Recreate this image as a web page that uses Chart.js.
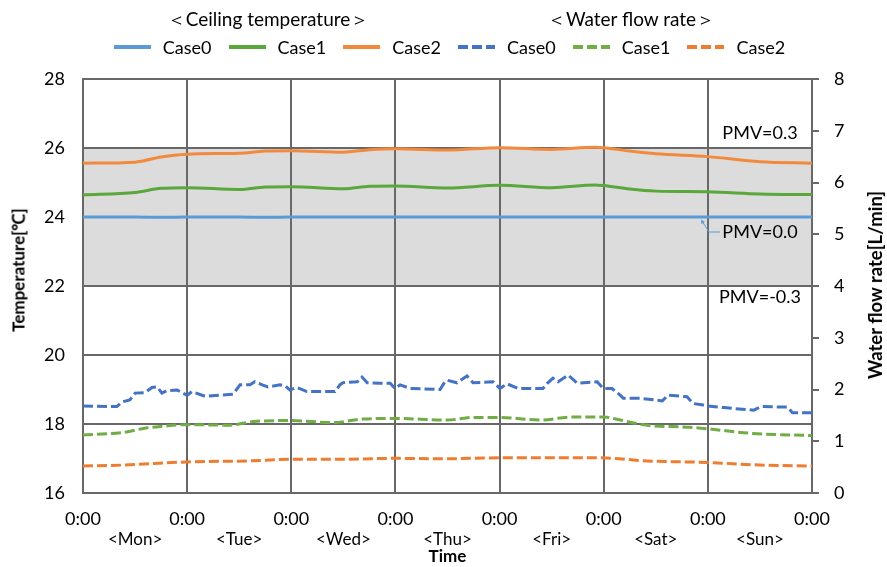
<!DOCTYPE html>
<html>
<head>
<meta charset="utf-8">
<script src="https://cdn.jsdelivr.net/npm/chart.js@4.4.1/dist/chart.umd.min.js"></script>
<style>
  html, body { margin: 0; background: #fff; }
  #wrap { position: relative; width: 887px; height: 567px; font-family: Lato, sans-serif; color: #000; }
  #chart { position: absolute; left: 0; top: 0; }
  .group { position: absolute; top: 20px; font-size: 19px; white-space: nowrap; transform: translate(-50%, -50%); }
  #legend { position: absolute; left: 6px; width: 887px; top: 47px; transform: translateY(-50%);
            display: flex; justify-content: center; align-items: center; font-size: 18px; }
  #legend .item { display: flex; align-items: center; margin-right: 17px; }
  #legend .item:last-child { margin-right: 0; }
  #legend svg { margin-right: 12px; }
  .axis-title { position: absolute; font-weight: bold; font-size: 17px; white-space: nowrap;
                transform: translate(-50%, -50%) rotate(-90deg); }
</style>
</head>
<body>
<div id="wrap">
  <canvas id="chart" width="887" height="567"></canvas>
  <div class="group" id="g0" style="left:268px"></div>
  <div class="group" id="g1" style="left:631px"></div>
  <div id="legend"></div>
  <div class="axis-title" style="left:18px; top:270px">Temperature[℃]</div>
  <div class="axis-title" style="left:875px; top:285px; font-size:18.5px">Water flow rate[L/min]</div>
</div>
<script>
// labels
const groupTitles = ['＜Ceiling temperature＞', '＜Water flow rate＞'];
const caseNames = ['Case0', 'Case1', 'Case2'];
const dayNames = ['<Mon>', '<Tue>', '<Wed>', '<Thu>', '<Fri>', '<Sat>', '<Sun>'];
const timeTicks = ['0:00', '0:00', '0:00', '0:00', '0:00', '0:00', '0:00', '0:00'];
const dayCenters = [12, 36, 60, 84, 108, 132, 156];

// ceiling temperature [°C], hours from Mon 0:00
const tempHours = [0, 12, 18, 24, 36, 42, 48, 60, 66, 72, 84, 96, 108, 118, 120, 126, 132, 144, 156, 168];
const tempCase0 = [24.0, 24.0, 23.99, 24.0, 24.0, 23.99, 24.0, 24.0, 24.0, 24.0, 24.0, 24.0, 24.0, 24.0, 24.0, 24.0, 24.0, 24.0, 24.0, 24.0];
const tempCase1 = [24.64, 24.71, 24.83, 24.85, 24.80, 24.87, 24.88, 24.82, 24.89, 24.90, 24.84, 24.92, 24.85, 24.93, 24.91, 24.81, 24.75, 24.73, 24.67, 24.65];
const tempCase2 = [25.56, 25.59, 25.74, 25.82, 25.85, 25.91, 25.92, 25.88, 25.95, 25.98, 25.94, 26.01, 25.96, 26.02, 26.01, 25.91, 25.83, 25.75, 25.60, 25.56];

// water flow rate [L/min]
const flow0Hours = [0, 7.8, 9, 10.8, 12, 14.3, 15.9, 17.1, 18.2, 19.4, 21.7, 23, 24, 25.1, 28.1, 34.6, 36.2, 38.5, 39.6, 41.3,
  42.6, 45.4, 46.6, 47.7, 49.3, 51.6, 58.1, 59.2, 59.9, 63.2, 64.3, 65.5, 68.5, 70.8, 71.9, 73.1, 75.4, 82.3, 83.4, 83.9,
  86.2, 88.5, 89.9, 94.5, 96.1, 97.7, 100.3, 106, 107, 108.3, 109.5, 111.8, 113.9, 118.5, 119.9, 121.9, 123.8, 124.5, 128.4, 133.5,
  134.8, 139.2, 140.6, 142.9, 144, 147.7, 154.6, 156.2, 162.4, 163.5, 168];
const flowCase0 = [1.68, 1.67, 1.76, 1.80, 1.93, 1.94, 2.04, 2.05, 1.93, 1.98, 1.99, 1.93, 1.89, 1.96, 1.87, 1.91, 2.09, 2.09, 2.15, 2.09,
  2.05, 2.09, 2.07, 1.99, 2.04, 1.96, 1.96, 2.09, 2.13, 2.15, 2.24, 2.13, 2.12, 2.12, 2.02, 2.09, 2.02, 2.00, 2.15, 2.18,
  2.13, 2.26, 2.13, 2.15, 2.02, 2.11, 2.02, 2.02, 2.12, 2.22, 2.15, 2.28, 2.12, 2.15, 2.02, 2.02, 1.89, 1.83, 1.83, 1.78,
  1.89, 1.86, 1.73, 1.70, 1.68, 1.65, 1.60, 1.67, 1.66, 1.55, 1.55];
const flow1Hours = [0, 9.2, 14.8, 18.4, 24, 33.9, 39.2, 48, 57.6, 64.5, 72, 83.9, 89.9, 96, 105.3, 112.9, 120, 123.8, 130, 139.9, 144, 154.4, 168];
const flowCase1 = [1.12, 1.17, 1.26, 1.29, 1.32, 1.31, 1.38, 1.40, 1.36, 1.43, 1.44, 1.41, 1.46, 1.46, 1.41, 1.47, 1.47, 1.41, 1.31, 1.27, 1.24, 1.15, 1.11];
const flow2Hours = [0, 9.2, 24, 37.8, 48, 57.6, 72, 82.3, 96, 119.2, 130, 144, 156, 168];
const flowCase2 = [0.52, 0.54, 0.60, 0.62, 0.65, 0.65, 0.67, 0.66, 0.68, 0.68, 0.62, 0.59, 0.54, 0.52];

// comfort band (PMV)
const pmvLabels = ['PMV=0.3', 'PMV=0.0', 'PMV=-0.3'];
const pmvTemps = [26, 24, 22];

const tempColors = ['#5B9BD5', '#5AA73B', '#F28A3D'];
const flowColors = ['#4472C4', '#70AD47', '#ED7D31'];
const flowDash = [10, 4];
const gridColor = '#686868';

document.getElementById('g0').textContent = groupTitles[0];
document.getElementById('g1').textContent = groupTitles[1];

// html legend
const legendEl = document.getElementById('legend');
function legendItem(name, color, dashed) {
  const dash = dashed ? ` stroke-dasharray="${flowDash.join(' ')}"` : '';
  return `<div class="item"><svg width="37" height="6"><line x1="0" y1="3" x2="37" y2="3" stroke="${color}" stroke-width="4"${dash}/></svg>${name}</div>`;
}
legendEl.innerHTML = caseNames.map((n, i) => legendItem(n, tempColors[i], false)).join('') +
  caseNames.map((n, i) => legendItem(n, flowColors[i], true)).join('');

const pts = (hours, vals) => hours.map((h, i) => ({ x: h, y: vals[i] }));

const datasets = [
  { label: 'Case0', data: pts(tempHours, tempCase0), yAxisID: 'y', borderColor: tempColors[0], borderWidth: 3, pointRadius: 0, cubicInterpolationMode: 'monotone' },
  { label: 'Case1', data: pts(tempHours, tempCase1), yAxisID: 'y', borderColor: tempColors[1], borderWidth: 3, pointRadius: 0, cubicInterpolationMode: 'monotone' },
  { label: 'Case2', data: pts(tempHours, tempCase2), yAxisID: 'y', borderColor: tempColors[2], borderWidth: 3, pointRadius: 0, cubicInterpolationMode: 'monotone' },
  { label: 'Case0 flow', data: pts(flow0Hours, flowCase0), yAxisID: 'y2', borderColor: flowColors[0], borderWidth: 3, borderDash: flowDash, pointRadius: 0, tension: 0 },
  { label: 'Case1 flow', data: pts(flow1Hours, flowCase1), yAxisID: 'y2', borderColor: flowColors[1], borderWidth: 3, borderDash: flowDash, pointRadius: 0, cubicInterpolationMode: 'monotone' },
  { label: 'Case2 flow', data: pts(flow2Hours, flowCase2), yAxisID: 'y2', borderColor: flowColors[2], borderWidth: 3, borderDash: flowDash, pointRadius: 0, cubicInterpolationMode: 'monotone' }
];

// gray comfort band + PMV notes
const pmvPlugin = {
  id: 'pmvBand',
  beforeDraw(chart) {
    const { ctx, chartArea: a, scales: { y } } = chart;
    const top = y.getPixelForValue(pmvTemps[0]);
    const bottom = y.getPixelForValue(pmvTemps[2]);
    ctx.save();
    ctx.fillStyle = '#dcdcdc';
    ctx.fillRect(a.left, top, a.right - a.left, bottom - top);
    ctx.restore();
  },
  afterDraw(chart) {
    const { ctx, chartArea: a, scales: { y } } = chart;
    const offs = [-15, 15, 11];
    ctx.save();
    ctx.font = '18px Lato';
    ctx.fillStyle = '#000';
    ctx.textAlign = 'center';
    ctx.textBaseline = 'middle';
    pmvLabels.forEach((t, i) => ctx.fillText(t, a.right - 52, y.getPixelForValue(pmvTemps[i]) + offs[i]));
    // leader line for PMV=0.0
    const y0 = y.getPixelForValue(pmvTemps[1]);
    ctx.strokeStyle = tempColors[0];
    ctx.fillStyle = tempColors[0];
    ctx.lineWidth = 1;
    ctx.beginPath();
    ctx.moveTo(a.right - 110, y0 + 4);
    ctx.lineTo(a.right - 103, y0 + 15);
    ctx.lineTo(a.right - 92, y0 + 15);
    ctx.stroke();
    ctx.beginPath();
    ctx.moveTo(a.right - 111, y0 + 2.5);
    ctx.lineTo(a.right - 110.5, y0 + 7);
    ctx.lineTo(a.right - 107, y0 + 5);
    ctx.closePath();
    ctx.fill();
    ctx.restore();
  }
};

Chart.defaults.font.family = 'Lato';
Chart.defaults.color = '#000';

new Chart(document.getElementById('chart'), {
  type: 'line',
  data: { datasets },
  plugins: [pmvPlugin],
  options: {
    responsive: false,
    animation: false,
    layout: { padding: { top: 79, left: 0, right: 0, bottom: 0 } },
    plugins: { legend: { display: false }, tooltip: { enabled: false } },
    scales: {
      x: {
        type: 'linear', min: 0, max: 168,
        afterBuildTicks: s => { s.ticks = timeTicks.map((_, i) => ({ value: i * 24 })); },
        ticks: { autoSkip: false, maxRotation: 0, padding: 15, font: { size: 18 }, callback: (v, i) => timeTicks[i] },
        grid: { color: gridColor, lineWidth: 2, drawTicks: false },
        border: { display: true, color: gridColor, width: 2 },
        afterFit: s => { s.height = 36; }
      },
      x2: {
        type: 'linear', position: 'bottom', min: 0, max: 168,
        afterBuildTicks: s => { s.ticks = dayCenters.map(v => ({ value: v })); },
        ticks: { autoSkip: false, maxRotation: 0, padding: 0, font: { size: 17 }, callback: (v, i) => dayNames[i] },
        grid: { display: false, drawTicks: false },
        border: { display: false },
        title: { display: true, text: 'Time', font: { size: 17, weight: 'bold' }, padding: { top: 0, bottom: 0 } },
        afterFit: s => { s.height = 38; }
      },
      y: {
        position: 'left', min: 16, max: 28,
        ticks: { stepSize: 2, padding: 18, font: { size: 18 } },
        grid: { color: gridColor, lineWidth: 2, drawTicks: false },
        border: { display: true, color: gridColor, width: 2 },
        afterFit: s => { s.width = 83; }
      },
      y2: {
        position: 'right', min: 0, max: 8,
        ticks: { stepSize: 1, padding: 15, font: { size: 18 } },
        grid: { drawOnChartArea: false, drawTicks: true, tickLength: 7, color: gridColor, lineWidth: 2 },
        border: { display: true, color: gridColor, width: 2 },
        afterFit: s => { s.width = 75; }
      }
    }
  }
});
</script>
</body>
</html>
